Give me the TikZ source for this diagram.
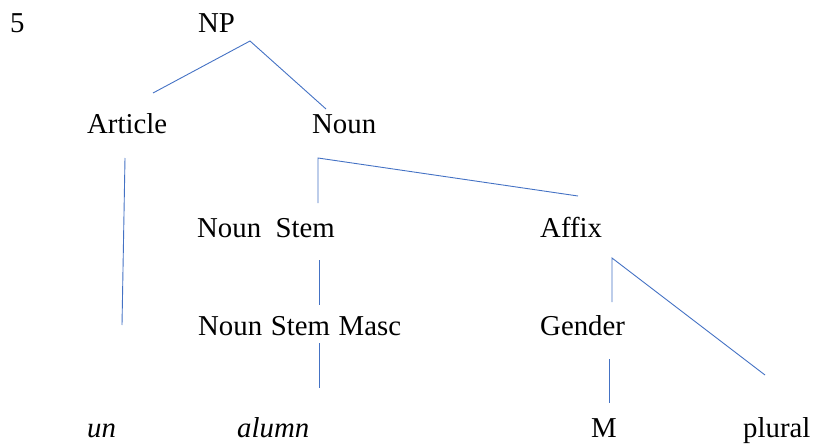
\documentclass[tikz,border=0pt]{standalone}
\usepackage{fontspec}
\setmainfont{Liberation Serif}
\begin{document}
\begin{tikzpicture}[x=1pt,y=-1pt,
  lbl/.style={anchor=base west,inner sep=0pt,font=\fontsize{28.8}{31}\selectfont},
  edge/.style={draw={rgb,255:red,68;green,114;blue,196},line width=0.9pt}]
\useasboundingbox (0,0) rectangle (813,444);
\node[lbl] (five) at (10,33) {5};
\node[lbl] (np) at (198,33) {NP};
\node[lbl] (article) at (87,133) {Article};
\node[lbl] (noun) at (312,133) {Noun};
\node[lbl] (stem) at (197,237) {Noun\ \ Stem};
\node[lbl] (affix) at (540,237) {Affix};
\node[lbl] (masc) at (198,335) {Noun\hspace{0.3em}Stem\hspace{0.3em}Masc};
\node[lbl] (gender) at (540,335) {Gender};
\node[lbl] (un) at (87,437) {\itshape un};
\node[lbl] (alumn) at (237,437) {\itshape alumn};
\node[lbl] (m) at (591,437) {M};
\node[lbl] (plural) at (743,437) {plural};
% connector end points
\coordinate (npT) at (250,41);
\coordinate (artTop) at (153,93);
\coordinate (nounTop) at (326,109);
\coordinate (artB) at (125,158);
\coordinate (unT) at (122,325);
\coordinate (nounB) at (318,158);
\coordinate (stemT) at (318,203);
\coordinate (affixT) at (578,196);
\coordinate (stemB) at (319,260);
\coordinate (mascT) at (319,305);
\coordinate (mascB) at (319,343);
\coordinate (alumnT) at (319,388);
\coordinate (affixB) at (612,258);
\coordinate (genderT) at (612,302);
\coordinate (pluralT) at (765,375);
\coordinate (genderB) at (609,359);
\coordinate (mT) at (609,403);
\draw[edge] (artTop) -- (npT) -- (nounTop);
\draw[edge] (artB) -- (unT);
\draw[edge] (stemT) -- (nounB) -- (affixT);
\draw[edge] (stemB) -- (mascT);
\draw[edge] (mascB) -- (alumnT);
\draw[edge] (genderT) -- (affixB) -- (pluralT);
\draw[edge] (genderB) -- (mT);
\end{tikzpicture}
\end{document}
